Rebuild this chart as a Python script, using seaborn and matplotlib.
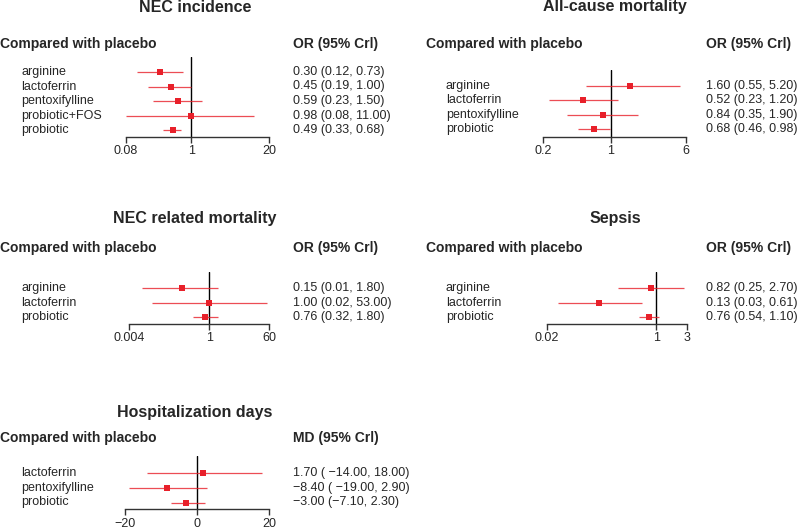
import numpy as np
import pandas as pd
import seaborn as sns
import matplotlib.pyplot as plt
from matplotlib.transforms import blended_transform_factory

sns.set_style("white")
plt.rcParams['font.family'] = ['Liberation Sans', 'DejaVu Sans']

W, H = 800, 529
RED = '#e8202a'

# NEC incidence
nec_trt = ['arginine', 'lactoferrin', 'pentoxifylline', 'probiotic+FOS', 'probiotic']
nec_est = [0.30, 0.45, 0.59, 0.98, 0.49]
nec_lo = [0.12, 0.19, 0.23, 0.08, 0.33]
nec_hi = [0.73, 1.00, 1.50, 11.00, 0.68]

# All-cause mortality
acm_trt = ['arginine', 'lactoferrin', 'pentoxifylline', 'probiotic']
acm_est = [1.60, 0.52, 0.84, 0.68]
acm_lo = [0.55, 0.23, 0.35, 0.46]
acm_hi = [5.20, 1.20, 1.90, 0.98]

# NEC related mortality
necm_trt = ['arginine', 'lactoferrin', 'probiotic']
necm_est = [0.15, 1.00, 0.76]
necm_lo = [0.01, 0.02, 0.32]
necm_hi = [1.80, 53.00, 1.80]

# Sepsis
sep_trt = ['arginine', 'lactoferrin', 'probiotic']
sep_est = [0.82, 0.13, 0.76]
sep_lo = [0.25, 0.03, 0.54]
sep_hi = [2.70, 0.61, 1.10]

# Hospitalization days
hosp_trt = ['lactoferrin', 'pentoxifylline', 'probiotic']
hosp_est = [1.70, -8.40, -3.00]
hosp_lo = [-14.00, -19.00, -7.10]
hosp_hi = [18.00, 2.90, 2.30]
hosp_txt = ['1.70 ( \u221214.00, 18.00)', '\u22128.40 ( \u221219.00, 2.90)', '\u22123.00 (\u22127.10, 2.30)']


def or_text(est, lo, hi):
    return ['{:.2f} ({:.2f}, {:.2f})'.format(e, l, h) for e, l, h in zip(est, lo, hi)]


fig = plt.figure(figsize=(8, 5.29), dpi=100)


def forest(title, trt, est, lo, hi, texts, head, ticks, ticklabels, ref, log,
           x0, x1, ytop, yaxis, yrow, title_x, title_y, cmp_x, cmp_y, lab_x, val_x, sp=14.5):
    ax = fig.add_axes([x0 / W, 1 - yaxis / H, (x1 - x0) / W, (yaxis - ytop) / H])
    df = pd.DataFrame({'trt': trt, 'est': est, 'lo': lo, 'hi': hi, 'row': np.arange(len(trt))})
    if log:
        ax.set_xscale('log')
    ax.hlines(df['row'], df['lo'], df['hi'], color=RED, lw=0.9, alpha=0.8, zorder=2)
    sns.scatterplot(data=df, x='est', y='row', marker='s', color=RED, s=19,
                    linewidth=0, ax=ax, legend=False, zorder=3)
    ax.axvline(ref, color='black', lw=1, zorder=1)
    ax.set_xlim(ticks[0], ticks[-1])
    ax.set_ylim((yaxis - yrow) / sp, (ytop - yrow) / sp)
    ax.set_xticks(ticks)
    ax.set_xticklabels(ticklabels)
    ax.minorticks_off()
    ax.set_yticks([])
    ax.set_xlabel('')
    ax.set_ylabel('')
    for s in ['top', 'left', 'right']:
        ax.spines[s].set_visible(False)
    ax.spines['bottom'].set_color('#333333')
    ax.spines['bottom'].set_linewidth(1)
    ax.tick_params(axis='x', direction='out', length=4.5, width=1, color='#333333',
                   labelsize=9, pad=1.5, bottom=True)
    ax.patch.set_alpha(0)

    tr = blended_transform_factory(fig.transFigure, ax.transData)
    for i, (t, v) in enumerate(zip(trt, texts)):
        ax.text(lab_x / W, i, t, transform=tr, fontsize=9, va='center', ha='left', clip_on=False)
        ax.text(val_x / W, i, v, transform=tr, fontsize=9, va='center', ha='left', clip_on=False)

    fig.text(title_x / W, 1 - title_y / H, title, fontsize=11.5, fontweight='bold',
             ha='center', va='center')
    fig.text(cmp_x / W, 1 - cmp_y / H, 'Compared with placebo', fontsize=10,
             fontweight='bold', ha='left', va='center')
    fig.text(val_x / W, 1 - cmp_y / H, head, fontsize=10, fontweight='bold',
             ha='left', va='center')


forest('NEC incidence', nec_trt, nec_est, nec_lo, nec_hi, or_text(nec_est, nec_lo, nec_hi),
       'OR (95% Crl)', [0.08, 1, 20], ['0.08', '1', '20'], 1, True,
       126, 269, 57, 137, 72, 195, 7, 0, 44, 21, 293)

forest('All-cause mortality', acm_trt, acm_est, acm_lo, acm_hi, or_text(acm_est, acm_lo, acm_hi),
       'OR (95% Crl)', [0.2, 1, 6], ['0.2', '1', '6'], 1, True,
       543, 686, 70, 137, 86, 615, 7, 426, 44, 446, 706, sp=14.4)

forest('NEC related mortality', necm_trt, necm_est, necm_lo, necm_hi,
       or_text(necm_est, necm_lo, necm_hi),
       'OR (95% Crl)', [0.004, 1, 60], ['0.004', '1', '60'], 1, True,
       129, 269, 272, 324, 288.3, 195, 219, 0, 248, 21, 293)

forest('Sepsis', sep_trt, sep_est, sep_lo, sep_hi, or_text(sep_est, sep_lo, sep_hi),
       'OR (95% Crl)', [0.02, 1, 3], ['0.02', '1', '3'], 1, True,
       547, 687, 272, 324, 288.3, 615, 219, 426, 248, 446, 706)

forest('Hospitalization days', hosp_trt, hosp_est, hosp_lo, hosp_hi, hosp_txt,
       'MD (95% Crl)', [-20, 0, 20], ['\u221220', '0', '20'], 0, False,
       125, 269, 456, 509.3, 473.3, 195, 412, 0, 438, 21, 293, sp=14.6)

fig.savefig('out.png', dpi=100)
